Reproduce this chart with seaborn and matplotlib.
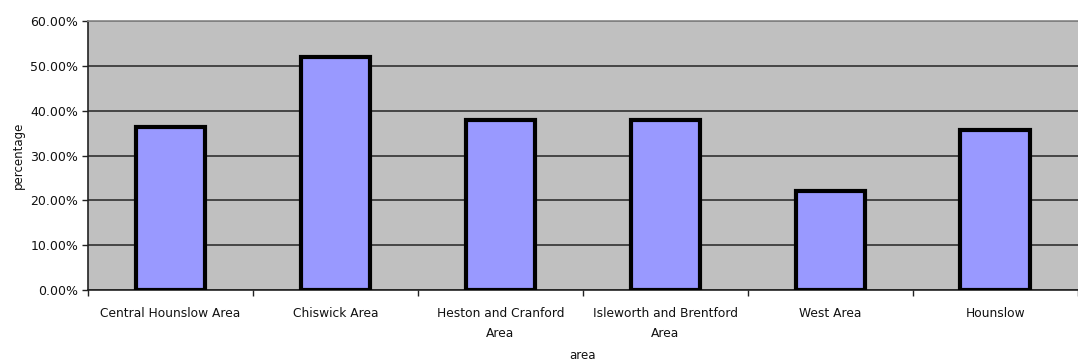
import matplotlib
matplotlib.use("Agg")
import matplotlib.pyplot as plt
import seaborn as sns
import pandas as pd
from matplotlib.ticker import PercentFormatter, FixedLocator

areas = ["Central Hounslow Area", "Chiswick Area", "Heston and Cranford\nArea",
         "Isleworth and Brentford\nArea", "West Area", "Hounslow"]
percentages = [36.4, 52.0, 37.9, 37.9, 22.0, 35.6]

df = pd.DataFrame({"area": areas, "percentage": percentages})

sns.set_theme(style="white")
plt.rcParams["font.family"] = ["DejaVu Sans"]

fig = plt.figure(figsize=(10.78, 3.63), dpi=100)
ax = fig.add_axes([0.0816, 0.201, 0.918, 0.741])
ax.set_facecolor("#c0c0c0")

sns.barplot(data=df, x="area", y="percentage", color="#9999ff", saturation=1,
            width=0.42, edgecolor="black", linewidth=3, ax=ax, zorder=3)

ax.set_ylim(0, 60)
ax.set_xlim(-0.5, len(areas) - 0.5)
ax.yaxis.set_major_locator(FixedLocator([0, 10, 20, 30, 40, 50, 60]))
ax.yaxis.set_major_formatter(PercentFormatter(decimals=2))
ax.grid(axis="y", color="#303030", linewidth=1.2, zorder=1)
ax.set_axisbelow(True)

ax.xaxis.set_minor_locator(FixedLocator([i - 0.5 for i in range(len(areas) + 1)]))
ax.tick_params(axis="x", which="major", length=0, pad=12, labelsize=8.8, colors="#111111")
ax.tick_params(axis="x", which="minor", length=4, width=1, color="#222222", direction="out", bottom=True)
ax.tick_params(axis="y", length=4, width=1, color="#222222", direction="out", left=True,
               labelsize=9, labelcolor="#111111", pad=3)
for lbl in ax.get_xticklabels():
    lbl.set_linespacing(1.75)

for side in ["left", "bottom"]:
    ax.spines[side].set_color("#222222")
    ax.spines[side].set_linewidth(1.2)
ax.spines["top"].set_color("#8a8a8a")
ax.spines["right"].set_visible(False)

ax.set_xlabel("area", fontsize=8.5, color="#111111", va="center")
ax.xaxis.set_label_coords(0.5, -0.243)
ax.set_ylabel("percentage", fontsize=8.5, color="#111111", labelpad=4)

fig.savefig("out.png", dpi=100)
